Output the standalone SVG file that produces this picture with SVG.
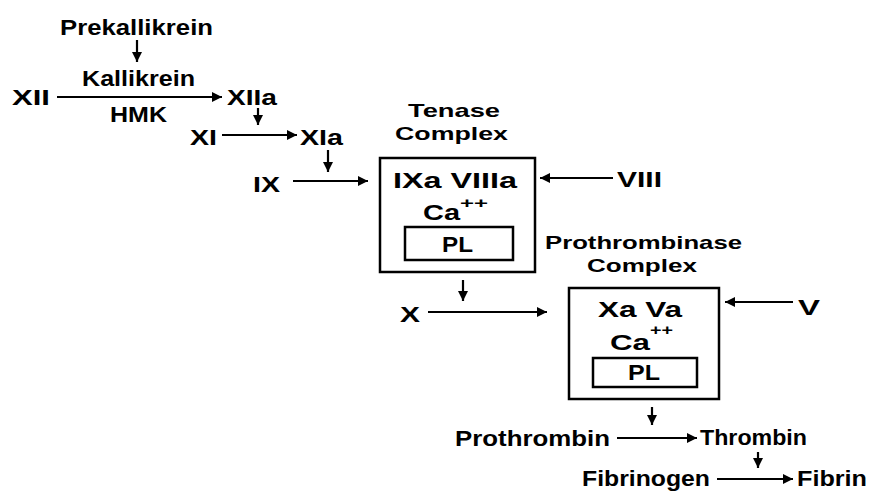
<svg xmlns="http://www.w3.org/2000/svg" width="873" height="491" viewBox="0 0 873 491">
<style>
text{font-family:"Liberation Sans","DejaVu Sans",Arial,sans-serif;font-weight:bold;fill:#000;font-size:22px}
.lbl{font-size:19px}
.sup{font-size:15px}
.ln{stroke:#000;stroke-width:2.2;fill:none}
.box{stroke:#000;stroke-width:2.5;fill:#fff}
</style>
<defs>
<marker id="ah" markerUnits="userSpaceOnUse" markerWidth="11" markerHeight="11" refX="10" refY="5.5" orient="auto">
<path d="M0,0.5 L10,5.5 L0,10.5 Z" fill="#000"/>
</marker>
</defs>
<rect width="873" height="491" fill="#fff"/>
<g id="connectors">
<line class="ln" x1="137" y1="40" x2="137" y2="62" marker-end="url(#ah)"/>
<line class="ln" x1="57" y1="97" x2="222" y2="97" marker-end="url(#ah)"/>
<line class="ln" x1="258" y1="108" x2="258" y2="125" marker-end="url(#ah)"/>
<line class="ln" x1="222" y1="135" x2="297" y2="135" marker-end="url(#ah)"/>
<line class="ln" x1="328" y1="150" x2="328" y2="172" marker-end="url(#ah)"/>
<line class="ln" x1="293" y1="181" x2="368" y2="181" marker-end="url(#ah)"/>
<line class="ln" x1="613" y1="178" x2="540" y2="178" marker-end="url(#ah)"/>
<line class="ln" x1="463" y1="280" x2="463" y2="301" marker-end="url(#ah)"/>
<line class="ln" x1="428" y1="312" x2="547" y2="312" marker-end="url(#ah)"/>
<line class="ln" x1="793" y1="302" x2="725" y2="302" marker-end="url(#ah)"/>
<line class="ln" x1="652" y1="407" x2="652" y2="425" marker-end="url(#ah)"/>
<line class="ln" x1="617" y1="438" x2="697" y2="438" marker-end="url(#ah)"/>
<line class="ln" x1="758" y1="452" x2="758" y2="468" marker-end="url(#ah)"/>
<line class="ln" x1="717" y1="479" x2="793" y2="479" marker-end="url(#ah)"/>
</g>
<g id="prekallikrein"><text x="60" y="35" textLength="153" lengthAdjust="spacingAndGlyphs">Prekallikrein</text></g>
<g id="kallikrein"><text x="82" y="86" textLength="113" lengthAdjust="spacingAndGlyphs">Kallikrein</text></g>
<g id="hmk"><text x="110" y="122" textLength="57" lengthAdjust="spacingAndGlyphs">HMK</text></g>
<g id="xii"><text x="12" y="105" textLength="38" lengthAdjust="spacingAndGlyphs">XII</text></g>
<g id="xiia"><text x="227" y="105" textLength="50" lengthAdjust="spacingAndGlyphs">XIIa</text></g>
<g id="xi"><text x="190" y="145" textLength="27" lengthAdjust="spacingAndGlyphs">XI</text></g>
<g id="xia"><text x="300" y="145" textLength="43" lengthAdjust="spacingAndGlyphs">XIa</text></g>
<g id="ix"><text x="253" y="192" textLength="27" lengthAdjust="spacingAndGlyphs">IX</text></g>
<g id="tenase-label">
<text class="lbl" x="408" y="117" textLength="92" lengthAdjust="spacingAndGlyphs">Tenase</text>
<text class="lbl" x="395" y="140" textLength="113" lengthAdjust="spacingAndGlyphs">Complex</text>
</g>
<g id="tenase-complex">
<rect class="box" x="380" y="158" width="155" height="114"/>
<text x="393" y="188" textLength="124" lengthAdjust="spacingAndGlyphs">IXa  VIIIa</text>
<text x="423" y="220" textLength="37" lengthAdjust="spacingAndGlyphs">Ca</text>
<text class="sup" x="460" y="208" textLength="28" lengthAdjust="spacingAndGlyphs">++</text>
<rect class="box" x="405" y="227" width="108" height="33"/>
<text x="442" y="252" textLength="31" lengthAdjust="spacingAndGlyphs">PL</text>
</g>
<g id="viii"><text x="617" y="187" textLength="45" lengthAdjust="spacingAndGlyphs">VIII</text></g>
<g id="prothrombinase-label">
<text class="lbl" x="545" y="249" textLength="197" lengthAdjust="spacingAndGlyphs">Prothrombinase</text>
<text class="lbl" x="587" y="272" textLength="110" lengthAdjust="spacingAndGlyphs">Complex</text>
</g>
<g id="x"><text x="400" y="322" textLength="20" lengthAdjust="spacingAndGlyphs">X</text></g>
<g id="prothrombinase-complex">
<rect class="box" x="569" y="288" width="150" height="111"/>
<text x="598" y="317" textLength="84" lengthAdjust="spacingAndGlyphs">Xa  Va</text>
<text x="610" y="350" textLength="40" lengthAdjust="spacingAndGlyphs">Ca</text>
<text class="sup" x="650" y="335" textLength="23" lengthAdjust="spacingAndGlyphs">++</text>
<rect class="box" x="593" y="358" width="104" height="29"/>
<text x="628" y="380" textLength="32" lengthAdjust="spacingAndGlyphs">PL</text>
</g>
<g id="v"><text x="798" y="315" textLength="22" lengthAdjust="spacingAndGlyphs">V</text></g>
<g id="prothrombin"><text x="455" y="446" textLength="155" lengthAdjust="spacingAndGlyphs">Prothrombin</text></g>
<g id="thrombin"><text x="700" y="445" textLength="107" lengthAdjust="spacingAndGlyphs">Thrombin</text></g>
<g id="fibrinogen"><text x="582" y="486" textLength="128" lengthAdjust="spacingAndGlyphs">Fibrinogen</text></g>
<g id="fibrin"><text x="797" y="486" textLength="70" lengthAdjust="spacingAndGlyphs">Fibrin</text></g>
</svg>
